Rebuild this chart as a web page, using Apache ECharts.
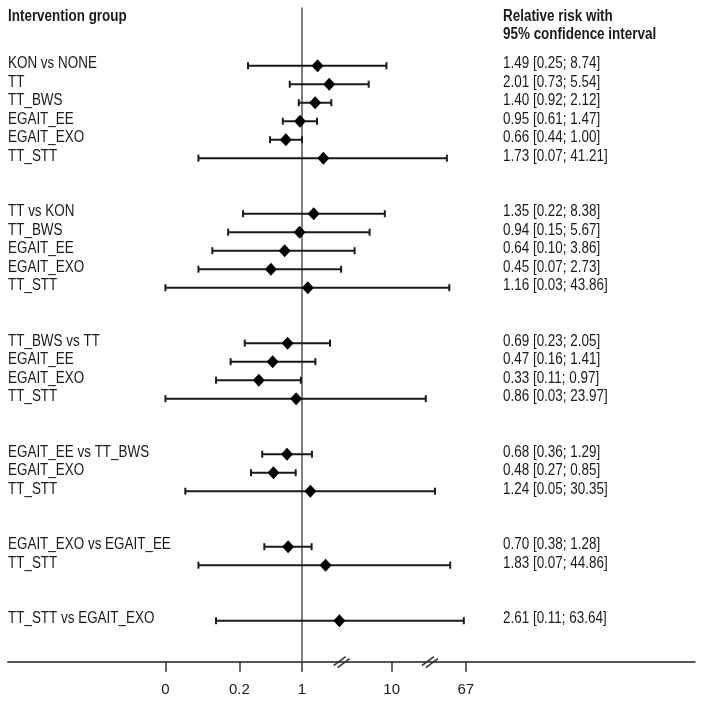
<!DOCTYPE html>
<html><head><meta charset="utf-8">
<script src="https://cdn.jsdelivr.net/npm/echarts@6/dist/echarts.min.js"></script>
<style>html,body{margin:0;padding:0;background:#fff}#c{width:702px;height:701px}</style>
</head><body><div id="c"></div>
<script>
// ---- data ----
const headerLeft = 'Intervention group';
const headerRight = ['Relative risk with', '95% confidence interval'];
const labels = ['KON vs NONE','TT','TT_BWS','EGAIT_EE','EGAIT_EXO','TT_STT',
  'TT vs KON','TT_BWS','EGAIT_EE','EGAIT_EXO','TT_STT',
  'TT_BWS vs TT','EGAIT_EE','EGAIT_EXO','TT_STT',
  'EGAIT_EE vs TT_BWS','EGAIT_EXO','TT_STT',
  'EGAIT_EXO vs EGAIT_EE','TT_STT',
  'TT_STT vs EGAIT_EXO'];
const groupSizes = [6,5,4,3,2,1];
const rr = [1.49,2.01,1.40,0.95,0.66,1.73, 1.35,0.94,0.64,0.45,1.16, 0.69,0.47,0.33,0.86, 0.68,0.48,1.24, 0.70,1.83, 2.61];
const lower = [0.25,0.73,0.92,0.61,0.44,0.07, 0.22,0.15,0.10,0.07,0.03, 0.23,0.16,0.11,0.03, 0.36,0.27,0.05, 0.38,0.07, 0.11];
const upper = [8.74,5.54,2.12,1.47,1.00,41.21, 8.38,5.67,3.86,2.73,43.86, 2.05,1.41,0.97,23.97, 1.29,0.85,30.35, 1.28,44.86, 63.64];
const tickValues = [0.03, 0.2, 1, 10, 67];
const tickLabels = ['0', '0.2', '1', '10', '67'];
const axisBreaks = [2.8, 27];

// ---- build ----
const FONT = "'Liberation Sans',Arial,sans-serif";
const SX = 0.84;
const L = v => Math.log10(v);
const rows = [];
{ let r = 0; groupSizes.forEach(n => { for (let k = 0; k < n; k++) rows.push(r++); r += 2; }); }
const fmt = i => rr[i].toFixed(2) + ' [' + lower[i].toFixed(2) + '; ' + upper[i].toFixed(2) + ']';
const data = labels.map((n, i) => [L(rr[i]), L(lower[i]), L(upper[i]), rows[i], i]);
const tickPos = tickValues.map(L);

function txt(x, y, text, bold) {
  return {type: 'text', x: x, y: y, scaleX: SX,
    style: {x: 0, y: 0, text: text, fill: '#1a1a1a', fontSize: 16, fontWeight: bold ? 'bold' : 'normal',
      fontFamily: FONT, align: 'left', verticalAlign: 'middle'}};
}
function renderItem(params, api) {
  const cs = params.coordSys;
  const y = api.coord([0, api.value(3)])[1];
  const xm = api.coord([api.value(0), 0])[0];
  const xl = api.coord([api.value(1), 0])[0];
  const xh = api.coord([api.value(2), 0])[0];
  const i = api.value(4);
  const st = {stroke: '#1a1a1a', lineWidth: 2};
  const ty = y - 2;
  return {type: 'group', children: [
    {type: 'line', shape: {x1: xl, y1: y, x2: xh, y2: y}, style: st},
    {type: 'line', shape: {x1: xl, y1: y - 3.5, x2: xl, y2: y + 3.5}, style: st},
    {type: 'line', shape: {x1: xh, y1: y - 3.5, x2: xh, y2: y + 3.5}, style: st},
    {type: 'polygon', shape: {points: [[xm, y - 6.5], [xm + 6, y], [xm, y + 6.5], [xm - 6, y]]}, style: {fill: '#000'}},
    txt(cs.x, ty, labels[i], false),
    txt(cs.x + 495, ty, fmt(i), false)
  ]};
}
function renderBreak(params, api) {
  const cs = params.coordSys;
  const x = api.coord([api.value(0), 0])[0];
  const y = cs.y + cs.height;
  const st = {stroke: '#333', lineWidth: 1.5};
  return {type: 'group', children: [
    {type: 'line', shape: {x1: x - 8.5, y1: y + 4, x2: x + 3.5, y2: y - 5}, style: st},
    {type: 'line', shape: {x1: x - 4.5, y1: y + 6, x2: x + 7.5, y2: y - 3}, style: st}
  ]};
}

const chart = echarts.init(document.getElementById('c'));
chart.setOption({
  animation: false,
  grid: {left: 8, right: 7.3, top: 8, bottom: 39.3},
  xAxis: {
    type: 'value', min: -3.278, max: 4.378,
    axisLine: {onZero: false, lineStyle: {color: '#555', width: 2}},
    splitLine: {show: false},
    axisTick: {customValues: tickPos, length: 10, lineStyle: {color: '#333', width: 1.5}},
    axisLabel: {customValues: tickPos, margin: 21, fontSize: 15, color: '#1a1a1a', fontFamily: FONT,
      formatter: v => { const k = tickPos.findIndex(t => Math.abs(t - v) < 1e-6); return k >= 0 ? tickLabels[k] : ''; }}
  },
  yAxis: {
    type: 'value', inverse: true, min: -3.119, max: 32.216,
    axisLine: {show: true, onZero: true, lineStyle: {color: '#555', width: 1.5}},
    axisTick: {show: false}, axisLabel: {show: false}, splitLine: {show: false}
  },
  graphic: [
    txt(8, 17, headerLeft, true),
    txt(503, 17, headerRight[0], true),
    txt(503, 35, headerRight[1], true)
  ],
  series: [
    {type: 'custom', renderItem, data, encode: {x: [0, 1, 2], y: 3}, clip: false, silent: true},
    {type: 'custom', renderItem: renderBreak, data: axisBreaks.map(v => [L(v)]), encode: {x: 0}, clip: false, silent: true, z: 5}
  ]
});
</script></body></html>
